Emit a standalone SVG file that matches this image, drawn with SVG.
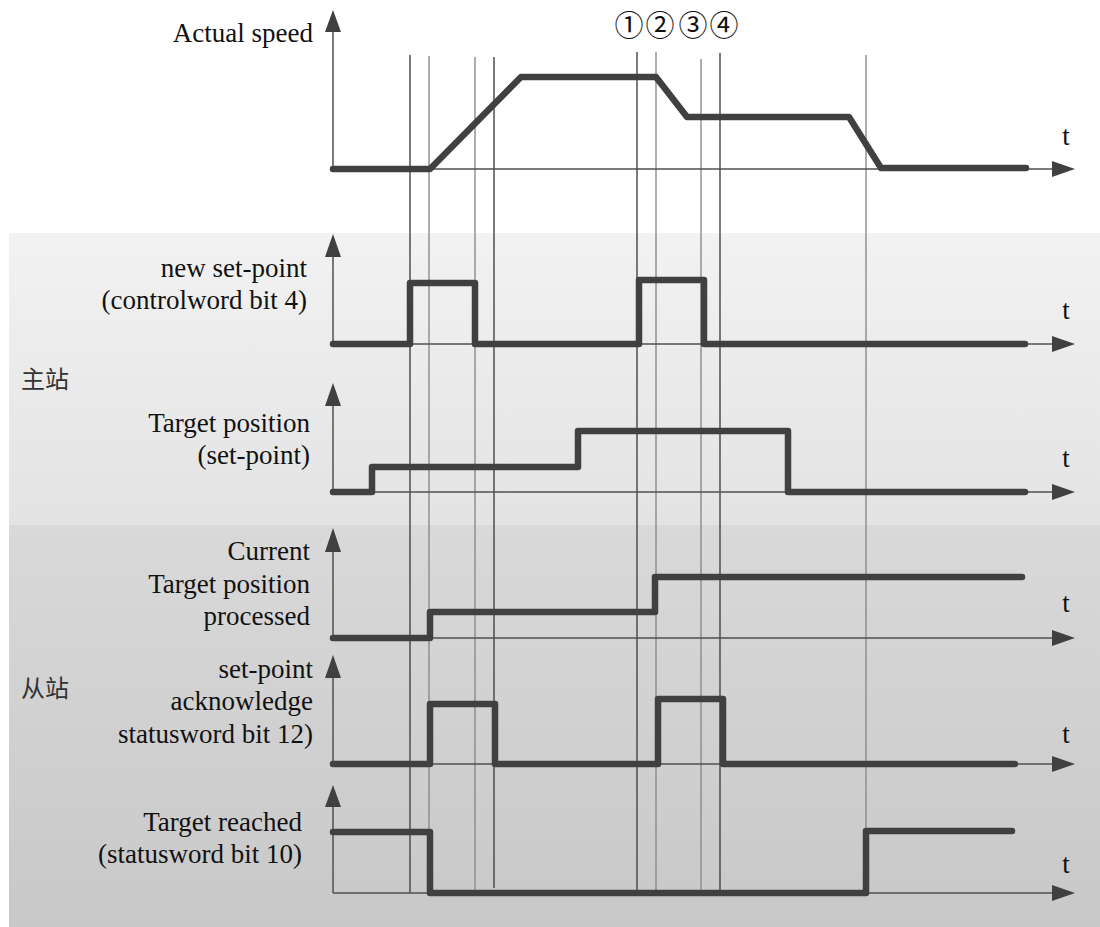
<svg xmlns="http://www.w3.org/2000/svg" width="1100" height="927" viewBox="0 0 1100 927">
<defs>
<linearGradient id="gTop" x1="0" y1="0" x2="0" y2="1">
<stop offset="0" stop-color="#f2f2f2"/><stop offset="1" stop-color="#e3e3e3"/>
</linearGradient>
<linearGradient id="gBot" x1="0" y1="0" x2="0" y2="1">
<stop offset="0" stop-color="#d9d9d9"/><stop offset="1" stop-color="#c8c8c8"/>
</linearGradient>
<style>
.lbl{font-size:27px;fill:#111;text-anchor:end}
.t{font-size:27px;fill:#111;text-anchor:middle}
.cn{font-size:24px;fill:#333}
.num{font-size:29px;fill:#111;text-anchor:middle}
.axis{stroke:#505050;stroke-width:1.5;fill:none}
.head{fill:#404040}
.sig{stroke:#404040;stroke-width:6.5;fill:none;stroke-linejoin:round;stroke-linecap:round}
.vd{stroke:#444;stroke-width:1.4}
.vl{stroke:#8a8a8a;stroke-width:1.4}
</style>
</defs>
<rect x="0" y="0" width="1100" height="927" fill="#ffffff"/>
<rect id="panel-master" x="9" y="233" width="1091" height="292" fill="url(#gTop)"/>
<rect id="panel-slave" x="9" y="525" width="1091" height="402" fill="url(#gBot)"/>
<g font-family="'Noto Sans CJK SC', sans-serif">
<text class="cn" x="21" y="388">主站</text>
<text class="cn" x="21" y="697">从站</text>
</g>

<g id="markers-lines">
<line class="vd" x1="410" y1="55" x2="410" y2="893"/>
<line class="vl" x1="429" y1="56" x2="429" y2="893"/>
<line class="vl" x1="475" y1="57" x2="475" y2="890"/>
<line class="vd" x1="494" y1="57" x2="494" y2="888"/>
<line class="vd" x1="637" y1="52" x2="637" y2="890"/>
<line class="vl" x1="656" y1="52" x2="656" y2="890"/>
<line class="vl" x1="701" y1="59" x2="701" y2="890"/>
<line class="vd" x1="720" y1="53" x2="720" y2="890"/>
<line class="vl" x1="866" y1="55" x2="866" y2="890"/>
</g>

<g id="event-numbers" font-family="'Noto Sans CJK SC', sans-serif">
<text class="num" x="629" y="36">①</text>
<text class="num" x="660" y="36">②</text>
<text class="num" x="693" y="36">③</text>
<text class="num" x="724" y="36">④</text>
</g>

<g font-family="'Liberation Serif', 'Times New Roman', 'DejaVu Serif', serif">
<g id="row-speed">
<text class="lbl" x="313" y="42">Actual speed</text>
<path class="axis" d="M333,169 V30 M333,169 H1054"/>
<polygon class="head" points="333,10 325,32 341,32"/>
<polygon class="head" points="1075,169 1052,161 1052,177"/>
<text class="t" x="1066" y="145">t</text>
<polyline class="sig" points="333,169 430,169 521,77 656,77 687,117 849,117 881,168 1026,168"/>
</g>

<g id="row-newsetpoint">
<text class="lbl" x="307" y="277">new set-point</text>
<text class="lbl" x="307" y="309">(controlword bit 4)</text>
<path class="axis" d="M333,344 V255 M333,344 H1054"/>
<polygon class="head" points="333,234 325,257 341,257"/>
<polygon class="head" points="1075,344 1052,336 1052,352"/>
<text class="t" x="1066" y="319">t</text>
<polyline class="sig" points="333,344 410,344 410,283 475,283 475,344 639,344 639,280 704,280 704,344 1025,344"/>
</g>

<g id="row-targetpos">
<text class="lbl" x="310" y="432">Target position</text>
<text class="lbl" x="310" y="464">(set-point)</text>
<path class="axis" d="M333,492 V404 M333,492 H1054"/>
<polygon class="head" points="333,383 325,406 341,406"/>
<polygon class="head" points="1075,492 1052,484 1052,500"/>
<text class="t" x="1066" y="467">t</text>
<polyline class="sig" points="333,492 372,492 372,467 578,467 578,431 788,431 788,492 1025,492"/>
</g>

<g id="row-current">
<text class="lbl" x="310" y="560">Current</text>
<text class="lbl" x="310" y="593">Target position</text>
<text class="lbl" x="310" y="625">processed</text>
<path class="axis" d="M333,638 V550 M333,638 H1054"/>
<polygon class="head" points="333,528 325,552 341,552"/>
<polygon class="head" points="1075,638 1052,630 1052,646"/>
<text class="t" x="1066" y="612">t</text>
<polyline class="sig" points="333,638 430,638 430,612 655,612 655,577 1022,577"/>
</g>

<g id="row-ack">
<text class="lbl" x="313" y="678">set-point</text>
<text class="lbl" x="313" y="710">acknowledge</text>
<text class="lbl" x="313" y="743">statusword bit 12)</text>
<path class="axis" d="M333,764 V676 M333,764 H1054"/>
<polygon class="head" points="333,655 325,678 341,678"/>
<polygon class="head" points="1075,764 1052,756 1052,772"/>
<text class="t" x="1066" y="743">t</text>
<polyline class="sig" points="333,764 430,764 430,704 495,704 495,764 658,764 658,699 723,699 723,764 1015,764"/>
</g>

<g id="row-reached">
<text class="lbl" x="302" y="831">Target reached</text>
<text class="lbl" x="302" y="863">(statusword bit 10)</text>
<path class="axis" d="M333,893 V805 M333,893 H1054"/>
<polygon class="head" points="333,785 325,807 341,807"/>
<polygon class="head" points="1075,893 1052,885 1052,901"/>
<text class="t" x="1066" y="873">t</text>
<polyline class="sig" points="333,832 430,832 430,893 866,893 866,831 1012,831"/>
</g>
</g>
</svg>
